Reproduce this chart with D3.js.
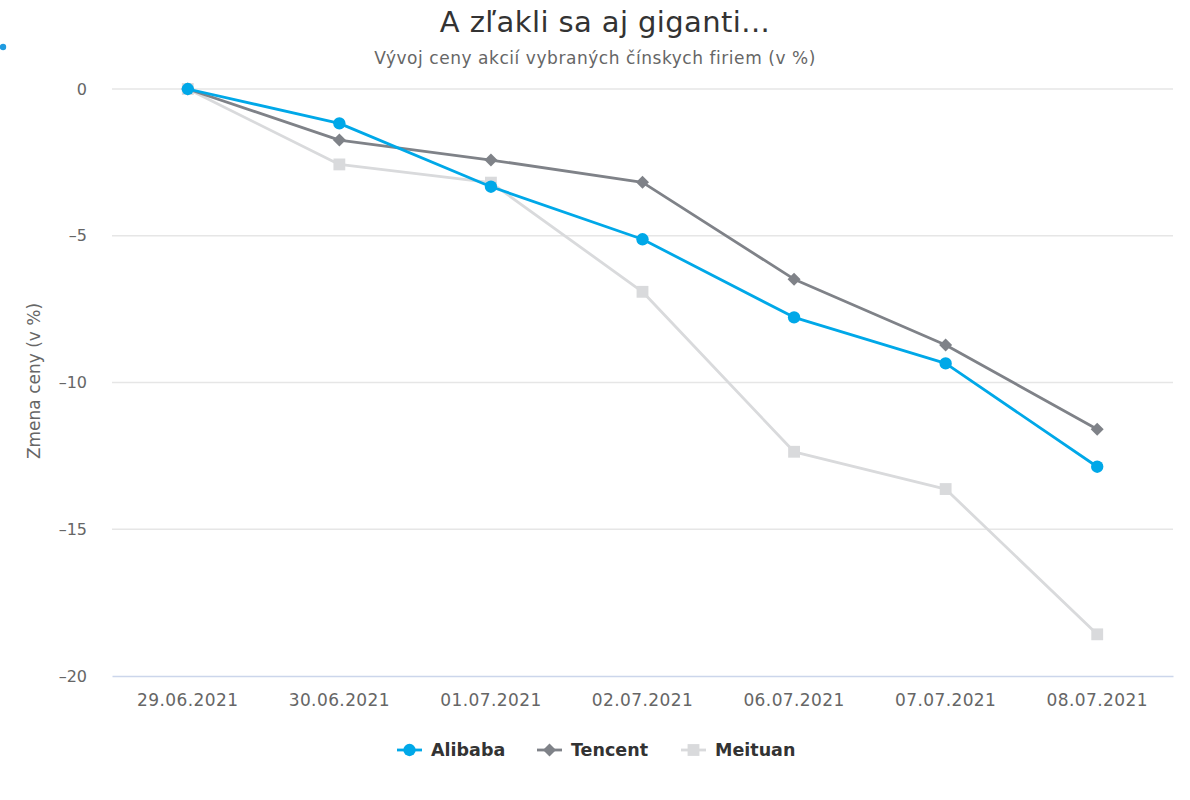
<!DOCTYPE html>
<html>
<head>
<meta charset="utf-8">
<script src="https://cdn.jsdelivr.net/npm/d3@7"></script>
<style>
    body { margin: 0; background: #fff; }
    svg { display: block; font-family: "DejaVu Sans", Verdana, sans-serif; }
</style>
</head>
<body>
<div id="chart"></div>
<script>
// Chart data
const categories = ['29.06.2021', '30.06.2021', '01.07.2021', '02.07.2021', '06.07.2021', '07.07.2021', '08.07.2021'];
const alibaba = [0, -1.17, -3.33, -5.12, -7.78, -9.35, -12.87];
const tencent = [0, -1.74, -2.42, -3.18, -6.48, -8.72, -11.59];
const meituan = [0, -2.57, -3.19, -6.91, -12.36, -13.63, -18.58];
const yTicks = [0, -5, -10, -15, -20];

const seriesNames = ['Alibaba', 'Tencent', 'Meituan'];
const seriesColors = ['#00a8e8', '#7f8288', '#d9dadc'];
const seriesSymbols = ['circle', 'diamond', 'square'];

const width = 1190, height = 800;
const margin = { top: 89, right: 17, bottom: 124, left: 112 };
const fontFamily = '"DejaVu Sans", Verdana, sans-serif';

const svg = d3.select('#chart')
    .append('svg')
    .attr('width', width)
    .attr('height', height);

const x = d3.scaleBand()
    .domain(categories)
    .range([margin.left, width - margin.right]);

const y = d3.scaleLinear()
    .domain([0, -20])
    .range([margin.top, height - margin.bottom]);

// Gridlines
svg.append('g')
    .selectAll('line')
    .data(yTicks.filter(d => d !== -20))
    .enter().append('line')
    .attr('x1', margin.left)
    .attr('x2', width - margin.right)
    .attr('y1', d => y(d))
    .attr('y2', d => y(d))
    .attr('stroke', '#e6e6e6')
    .attr('stroke-width', 1.5);

// X axis
const xAxis = svg.append('g')
    .attr('transform', `translate(0,${y(-20)})`)
    .call(d3.axisBottom(x).tickSize(0).tickPadding(18));
xAxis.select('.domain').attr('stroke', '#ccd6eb').attr('stroke-width', 1.5);
xAxis.selectAll('text')
    .attr('fill', '#666')
    .attr('font-size', '17px')
    .attr('letter-spacing', '0.4px')
    .style('font-family', fontFamily);

// Y axis labels
const yAxis = svg.append('g')
    .attr('transform', `translate(${margin.left},0)`)
    .call(d3.axisLeft(y).tickValues(yTicks).tickSize(0).tickPadding(25)
        .tickFormat(d => d === 0 ? '0' : '\u2013' + Math.abs(d)));
yAxis.select('.domain').remove();
yAxis.selectAll('text')
    .attr('fill', '#666')
    .attr('font-size', '16px')
    .style('font-family', fontFamily);

// Y axis title
svg.append('text')
    .attr('transform', 'translate(34,381) rotate(-90)')
    .attr('text-anchor', 'middle')
    .attr('dy', '0.35em')
    .attr('fill', '#666')
    .attr('font-size', '17px')
    .text('Zmena ceny (v %)');

// Titles
svg.append('text')
    .attr('x', 605)
    .attr('y', 32)
    .attr('text-anchor', 'middle')
    .attr('fill', '#333')
    .attr('font-size', '29px')
    .attr('letter-spacing', '0.4px')
    .text('A zľakli sa aj giganti...');

svg.append('text')
    .attr('x', 595)
    .attr('y', 64)
    .attr('text-anchor', 'middle')
    .attr('fill', '#666')
    .attr('font-size', '17px')
    .attr('letter-spacing', '0.55px')
    .text('Vývoj ceny akcií vybraných čínskych firiem (v %)');

// Small dot top-left
svg.append('circle')
    .attr('cx', 3)
    .attr('cy', 47)
    .attr('r', 3.2)
    .attr('fill', '#1f9be0');

function symbolPath(type) {
    if (type === 'circle') return d3.symbol(d3.symbolCircle, 120)();
    if (type === 'square') return d3.symbol(d3.symbolSquare, 140)();
    // diamond
    return 'M0,-6.5L6.5,0L0,6.5L-6.5,0Z';
}

const allSeries = [alibaba, tencent, meituan];
const line = d3.line()
    .x((d, i) => x(categories[i]) + x.bandwidth() / 2)
    .y(d => y(d));

// draw in reverse so Alibaba is on top
[2, 1, 0].forEach(k => {
    const g = svg.append('g');
    g.append('path')
        .datum(allSeries[k])
        .attr('fill', 'none')
        .attr('stroke', seriesColors[k])
        .attr('stroke-width', 2.8)
        .attr('stroke-linejoin', 'round')
        .attr('d', line);
    g.selectAll('path.marker')
        .data(allSeries[k])
        .enter().append('path')
        .attr('class', 'marker')
        .attr('transform', (d, i) => `translate(${x(categories[i]) + x.bandwidth() / 2},${y(d)})`)
        .attr('d', symbolPath(seriesSymbols[k]))
        .attr('fill', seriesColors[k]);
});

// Legend
const legendX = [397, 537, 681];
const legend = svg.append('g');
seriesNames.forEach((name, k) => {
    const item = legend.append('g').attr('transform', `translate(${legendX[k]},750)`);
    item.append('line')
        .attr('x1', 0).attr('x2', 25)
        .attr('stroke', seriesColors[k])
        .attr('stroke-width', 2.8);
    item.append('path')
        .attr('transform', 'translate(12.5,0)')
        .attr('d', symbolPath(seriesSymbols[k]))
        .attr('fill', seriesColors[k]);
    item.append('text')
        .attr('x', 34)
        .attr('dy', '0.35em')
        .attr('fill', '#333')
        .attr('font-size', '17.5px')
        .attr('font-weight', 'bold')
        .text(name);
});
</script>
</body>
</html>
